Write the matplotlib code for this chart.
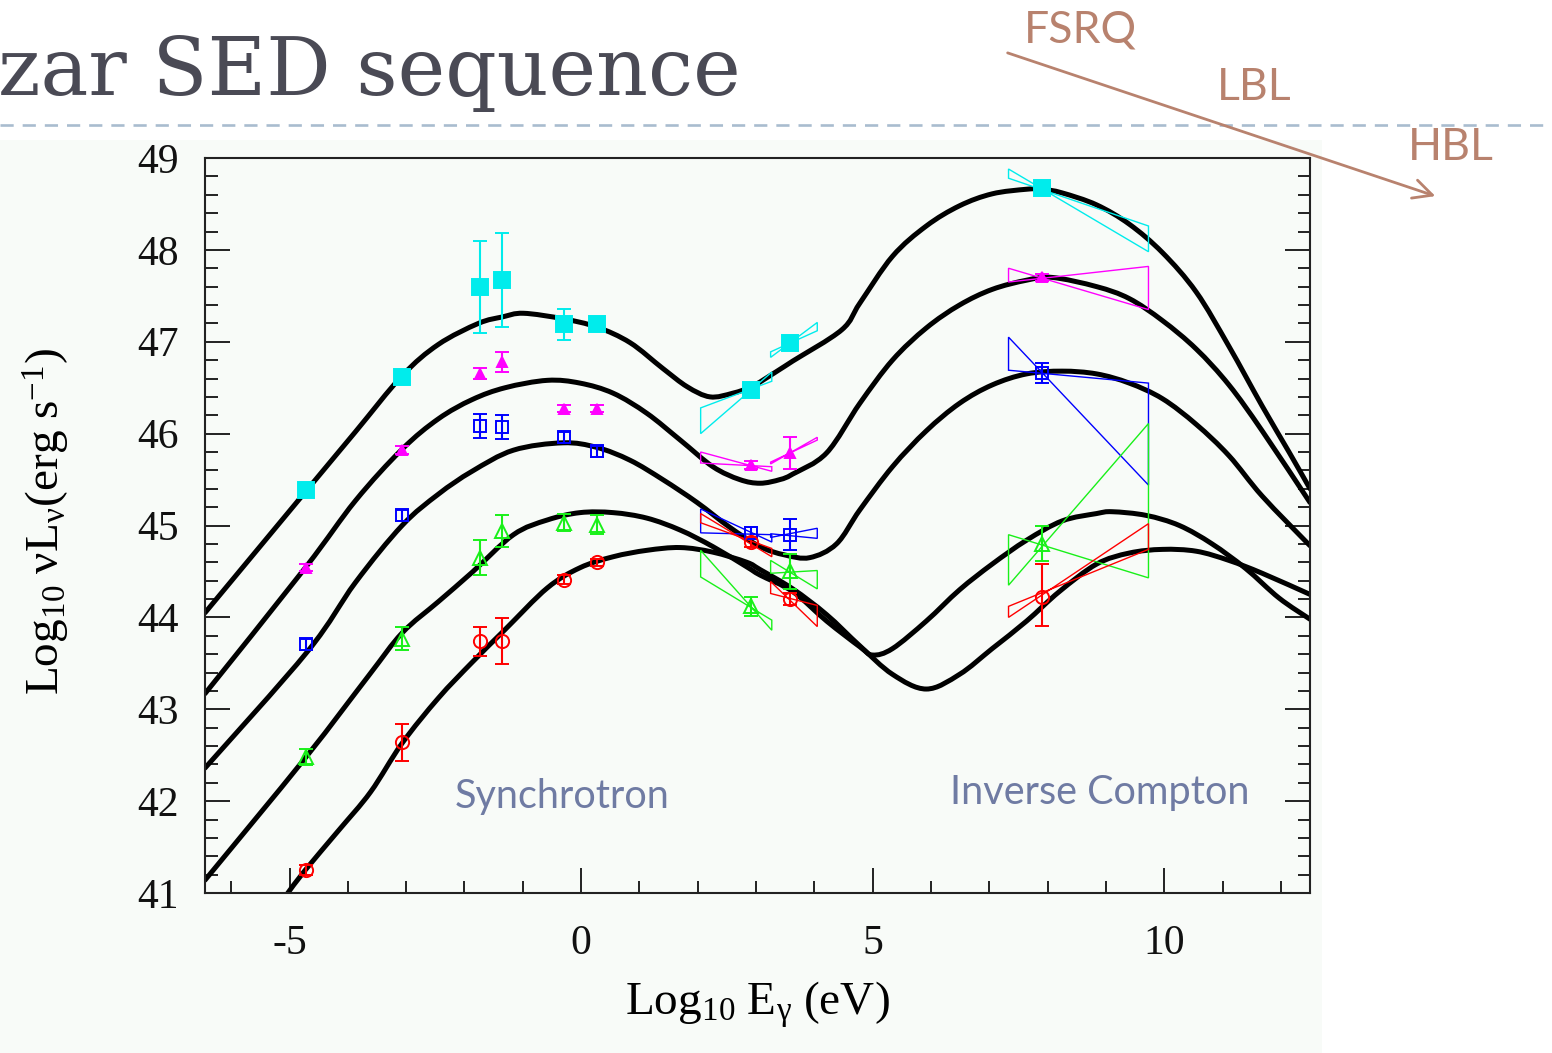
import matplotlib
matplotlib.use("Agg")
import matplotlib.pyplot as plt
from matplotlib.patches import FancyArrowPatch, Rectangle, Polygon, PathPatch
from matplotlib.lines import Line2D
from matplotlib.path import Path
from matplotlib.ticker import MultipleLocator

plt.rcParams["mathtext.fontset"] = "custom"
plt.rcParams["mathtext.rm"] = "Liberation Serif"
plt.rcParams["mathtext.it"] = "Liberation Serif:italic"
plt.rcParams["mathtext.bf"] = "Liberation Serif:bold"
plt.rcParams["axes.unicode_minus"] = False

# ---------------- model SED curves (log10 E [eV], log10 nuL_nu) ----------------
seq1_x = [-6.45, -4.71, -3.87, -3.07, -2.45, -1.76, -1.35, -0.99, -0.31, 0.27, 0.84, 1.40, 1.82,
          2.21, 2.60, 2.95, 3.41, 3.63, 4.47, 4.78, 5.34, 5.92, 6.49, 7.05, 7.64, 7.91, 8.25,
          8.84, 9.40, 9.97, 10.55, 11.11, 11.68, 12.14, 12.5]
seq1_y = [44.05, 45.38, 46.02, 46.63, 46.97, 47.20, 47.27, 47.31, 47.25, 47.16, 46.99, 46.71, 46.51,
          46.40, 46.44, 46.52, 46.70, 46.79, 47.13, 47.42, 47.93, 48.26, 48.48, 48.61, 48.66, 48.66, 48.62,
          48.49, 48.28, 47.97, 47.54, 46.95, 46.30, 45.80, 45.40]

seq2_x = [-6.45, -4.73, -3.87, -3.07, -2.45, -1.87, -1.30, -0.58, -0.02, 0.55, 1.13, 1.70, 2.26,
          2.72, 3.07, 3.41, 3.63, 4.21, 4.78, 5.34, 5.92, 6.49, 7.05, 7.64, 8.08, 8.84, 9.40,
          9.97, 10.55, 11.11, 11.68, 12.5]
seq2_y = [43.17, 44.54, 45.27, 45.83, 46.16, 46.37, 46.50, 46.58, 46.55, 46.44, 46.22, 45.93, 45.64,
          45.50, 45.46, 45.50, 45.56, 45.79, 46.33, 46.80, 47.15, 47.40, 47.57, 47.67, 47.70, 47.60, 47.47,
          47.23, 46.92, 46.53, 46.03, 45.25]

seq3_x = [-6.45, -4.69, -3.87, -3.07, -2.45, -1.87, -1.16, -0.31, 0.27, 0.84, 1.40, 1.99, 2.55,
          3.07, 3.49, 3.92, 4.38, 4.78, 5.34, 5.92, 6.49, 7.05, 7.64, 8.25, 8.84, 9.40, 9.97,
          10.55, 11.11, 11.68, 12.5]
seq3_y = [42.36, 43.63, 44.38, 45.00, 45.34, 45.59, 45.82, 45.90, 45.85, 45.71, 45.50, 45.25, 44.98,
          44.77, 44.68, 44.65, 44.80, 45.17, 45.64, 46.03, 46.33, 46.53, 46.65, 46.68, 46.65, 46.55, 46.38,
          46.10, 45.76, 45.32, 44.78]

seq4_x = [-6.45, -4.73, -3.65, -3.07, -2.45, -1.87, -1.16, -0.58, -0.02, 0.55, 1.13, 1.70, 2.26,
          2.84, 3.07, 3.63, 4.21, 4.78, 5.00, 5.34, 5.92, 6.49, 7.05, 7.64, 8.25, 8.84, 9.11,
          9.69, 10.26, 10.82, 11.40, 11.97, 12.5]
seq4_y = [41.14, 42.47, 43.36, 43.83, 44.17, 44.49, 44.90, 45.06, 45.14, 45.14, 45.08, 44.95, 44.77,
          44.55, 44.46, 44.28, 43.96, 43.68, 43.59, 43.66, 43.96, 44.30, 44.58, 44.84, 45.05, 45.13, 45.15,
          45.11, 45.00, 44.80, 44.53, 44.21, 43.98]

seq5_x = [-5.03, -4.73, -4.16, -3.61, -3.07, -2.45, -1.87, -1.30, -0.58, -0.02, 0.55, 1.13, 1.70,
          2.26, 2.84, 3.07, 3.63, 4.21, 4.78, 5.34, 5.92, 6.49, 7.05, 7.64, 8.20, 8.84, 9.40,
          9.97, 10.55, 11.11, 11.68, 12.5]
seq5_y = [41.00, 41.25, 41.68, 42.10, 42.63, 43.12, 43.51, 43.87, 44.32, 44.54, 44.66, 44.73, 44.76,
          44.71, 44.60, 44.52, 44.31, 44.03, 43.69, 43.38, 43.22, 43.38, 43.66, 43.96, 44.28, 44.58, 44.70,
          44.74, 44.72, 44.62, 44.48, 44.25]

# ---------------- averaged photometry per band ----------------
band_x = [-4.72, -3.07, -1.73, -1.35, -0.30, 0.28, 2.92, 3.58, 7.91]

cyan_y = [45.39, 46.62, 47.60, 47.67, 47.19, 47.19, 46.48, 46.99, 48.67]
cyan_err = [0, 0, 0.50, 0.51, 0.17, 0, 0, 0, 0]
magenta_y = [44.54, 45.82, 46.65, 46.78, 46.27, 46.27, 45.66, 45.79, 47.70]
magenta_err = [0.04, 0.04, 0.06, 0.11, 0.04, 0.04, 0.04, 0.17, 0.04]
blue_y = [43.71, 45.11, 46.08, 46.07, 45.96, 45.81, 44.92, 44.90, 46.66]
blue_err = [0.06, 0.06, 0.13, 0.13, 0.06, 0.06, 0.06, 0.17, 0.11]
green_y = [42.48, 43.77, 44.65, 44.94, 45.03, 45.01, 44.12, 44.50, 44.80]
green_err = [0.09, 0.13, 0.19, 0.17, 0.09, 0.10, 0.10, 0.19, 0.19]
red_y = [41.25, 42.64, 43.74, 43.74, 44.41, 44.60, 44.82, 44.20, 44.22]
red_err_lo = [0.05, 0.20, 0.16, 0.25, 0.05, 0.04, 0.05, 0.06, 0.31]
red_err_hi = [0.05, 0.20, 0.16, 0.25, 0.05, 0.04, 0.05, 0.06, 0.36]

# ---------------- spectral bowties: [left_hi, left_lo, right_hi, right_lo] ----------------
soft_x_range = [2.05, 3.27]
hard_x_range = [3.25, 4.05]
gamma_range = [7.33, 9.73]

cyan_bowties = [[46.28, 46.00, 46.67, 46.57], [46.89, 46.83, 47.21, 47.12], [48.88, 48.78, 48.26, 47.98]]
magenta_bowties = [[45.80, 45.68, 45.64, 45.59], [45.69, 45.67, 45.96, 45.93], [47.80, 47.65, 47.82, 47.35]]
blue_bowties = [[45.18, 44.92, 44.90, 44.82], [44.91, 44.87, 44.97, 44.86], [47.05, 46.69, 46.55, 45.44]]
green_bowties = [[44.73, 44.44, 43.97, 43.86], [44.62, 44.48, 44.51, 44.31], [44.90, 44.35, 46.11, 44.43]]
red_bowties = [[45.13, 45.03, 44.75, 44.66], [44.39, 44.26, 44.13, 43.90], [44.12, 44.00, 45.02, 44.74]]

x_ticks = [-5, 0, 5, 10]
y_ticks = [41, 42, 43, 44, 45, 46, 47, 48, 49]

CYAN, MAGENTA, BLUE, GREEN, RED = "#00ecec", "#ff00ff", "#0000ff", "#19f019", "#ff0000"
ACCENT = "#b8826e"
LABEL_BLUE = "#6f7ba3"

W, H = 1552, 1053
fig = plt.figure(figsize=(W / 100, H / 100), dpi=100, facecolor="white")

# pasted-figure panel background and slide decorations
fig.add_artist(Rectangle((0, 0), 1322 / W, 1 - 140 / H, transform=fig.transFigure,
                         facecolor="#f8fbf8", edgecolor="none", zorder=0))
fig.add_artist(Line2D([0, 1], [1 - 125 / H, 1 - 125 / H], transform=fig.transFigure,
                      color="#a9bccf", lw=1.9, dashes=(5, 3.4), zorder=1))
fig.text(-2 / W, 1 - 95 / H, "zar SED sequence", fontsize=58, family="DejaVu Serif",
         color="#4a4a55", ha="left", va="baseline")

ax = fig.add_axes([205 / W, 1 - 893 / H, 1105 / W, 735 / H])
ax.set_facecolor("none")
ax.set_xlim(-6.45, 12.5)
ax.set_ylim(41, 49)


def smooth_path(xs, ys):
    """Cubic Catmull-Rom path passing through every given point."""
    pts = list(zip(xs, ys))
    verts, codes = [pts[0]], [Path.MOVETO]
    for i in range(len(pts) - 1):
        p0 = pts[i - 1] if i > 0 else pts[i]
        p1, p2 = pts[i], pts[i + 1]
        p3 = pts[i + 2] if i + 2 < len(pts) else pts[i + 1]
        c1 = (p1[0] + (p2[0] - p0[0]) / 6, p1[1] + (p2[1] - p0[1]) / 6)
        c2 = (p2[0] - (p3[0] - p1[0]) / 6, p2[1] - (p3[1] - p1[1]) / 6)
        verts += [c1, c2, p2]
        codes += [Path.CURVE4] * 3
    return Path(verts, codes)


curves = [(seq1_x, seq1_y), (seq2_x, seq2_y), (seq3_x, seq3_y), (seq4_x, seq4_y), (seq5_x, seq5_y)]
for cx, cy in curves:
    ax.add_patch(PathPatch(smooth_path(cx, cy), facecolor="none", edgecolor="black", lw=3.6,
                           capstyle="round", joinstyle="round", zorder=2))


def draw_bowtie(xr, corners, color):
    xl, xrr = xr
    lh, ll, rh, rl = corners
    poly = Polygon([(xl, lh), (xrr, rl), (xrr, rh), (xl, ll)], closed=True,
                   facecolor="none", edgecolor=color, lw=1.0, zorder=3)
    ax.add_patch(poly)


series = [
    (cyan_y, [cyan_err, cyan_err], cyan_bowties, CYAN, "s", 11, CYAN),
    (magenta_y, [magenta_err, magenta_err], magenta_bowties, MAGENTA, "^", 7, MAGENTA),
    (blue_y, [blue_err, blue_err], blue_bowties, BLUE, "s", 9, "none"),
    (green_y, [green_err, green_err], green_bowties, GREEN, "^", 10, "none"),
    (red_y, [red_err_lo, red_err_hi], red_bowties, RED, "o", 9.5, "none"),
]
for ys, errs, bowties, color, marker, ms, face in series:
    for xr, corners in zip([soft_x_range, hard_x_range, gamma_range], bowties):
        draw_bowtie(xr, corners, color)
    ax.errorbar(band_x, ys, yerr=errs, fmt=marker, ms=ms, mfc=face, mec=color, mew=1.4,
                ecolor=color, elinewidth=1.5, capsize=5, capthick=1.5, zorder=4)

ax.text(-0.33, 42.05, "Synchrotron", fontsize=28.5, family="Lato", color=LABEL_BLUE,
        ha="center", va="center")
ax.text(8.9, 42.09, "Inverse Compton", fontsize=28.5, family="Lato", color=LABEL_BLUE,
        ha="center", va="center")

# axes styling
for s in ax.spines.values():
    s.set_linewidth(1.5)
    s.set_color("#222222")
ax.set_xticks(x_ticks)
ax.set_yticks(y_ticks)
ax.xaxis.set_minor_locator(MultipleLocator(1))
ax.yaxis.set_minor_locator(MultipleLocator(0.2))
ax.tick_params(which="both", direction="in", top=False, right=True, left=True, bottom=True,
               colors="#111111", width=1.3)
ax.tick_params(which="major", length=18)
ax.tick_params(which="minor", length=9)
ax.tick_params(axis="x", which="major", pad=23)
ax.tick_params(axis="y", which="major", pad=19)
for lab in ax.get_xticklabels() + ax.get_yticklabels():
    lab.set_fontfamily("Liberation Serif")
    lab.set_fontsize(30)

ax.set_xlabel(r"$\mathrm{Log_{10}\ E_{\gamma}\ (eV)}$", fontsize=34)
ax.xaxis.set_label_coords(0.5, -0.152)
ax.xaxis.label.set_va("center")
ax.set_ylabel(r"$\mathrm{Log_{10}\ \nu L_{\nu}(erg\ s^{-1})}$", fontsize=34)
ax.yaxis.set_label_coords(-0.143, 0.505)
ax.yaxis.label.set_va("center")

# blazar sequence annotation
fig.text(1080 / W, 1 - 30 / H, "FSRQ", fontsize=32, family="Lato", color=ACCENT, ha="center", va="center")
fig.text(1254 / W, 1 - 88 / H, "LBL", fontsize=32, family="Lato", color=ACCENT, ha="center", va="center")
fig.text(1451 / W, 1 - 147 / H, "HBL", fontsize=32, family="Lato", color=ACCENT, ha="center", va="center")
fig.add_artist(FancyArrowPatch((1005 / W, 1 - 52 / H), (1438 / W, 1 - 197 / H),
                               transform=fig.transFigure, arrowstyle="->", mutation_scale=34,
                               color=ACCENT, lw=2.0, zorder=5))

fig.savefig("out.png", dpi=100, facecolor=fig.get_facecolor())
